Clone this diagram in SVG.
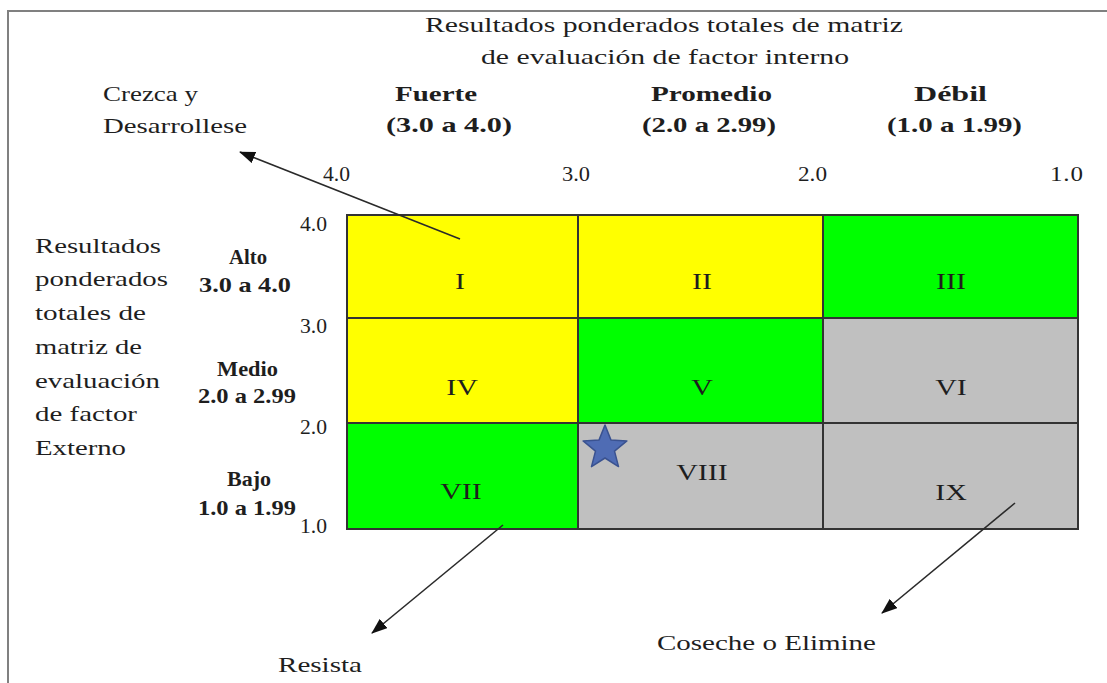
<svg xmlns="http://www.w3.org/2000/svg" width="1107" height="683" viewBox="0 0 1107 683">
<style>
text{font-family:"Liberation Serif","Times New Roman",serif;fill:#1e1e1e;font-size:22px}
.b{font-weight:bold}
.ax{font-size:20px}
.num{font-size:24px}
.cell{stroke:#333;stroke-width:2}
.y{fill:#ffff00}.g{fill:#00ff00}.s{fill:#c0c0c0}
.arr{stroke:#2a2a2a;stroke-width:1.6;fill:none;marker-end:url(#ah)}
</style>
<defs>
<marker id="ah" viewBox="0 0 16 12" refX="15" refY="6" markerWidth="16" markerHeight="12" markerUnits="userSpaceOnUse" orient="auto">
<path d="M0,0 L16,6 L0,12 Z" fill="#111"/>
</marker>
</defs>
<rect width="1107" height="683" fill="#fff"/>
<path d="M8,683 V11 H1107" fill="none" stroke="#808080" stroke-width="2"/>

<g id="titles" transform="scale(1.25 1)">
<text x="340" y="32" textLength="382.4" lengthAdjust="spacingAndGlyphs">Resultados ponderados totales de matriz</text>
<text x="384.8" y="64" textLength="294.4" lengthAdjust="spacingAndGlyphs">de evaluación de factor interno</text>
<text x="82.4" y="101" textLength="76" lengthAdjust="spacingAndGlyphs">Crezca y</text>
<text x="82.4" y="133" textLength="115.2" lengthAdjust="spacingAndGlyphs">Desarrollese</text>
<text class="b" x="316" y="101" textLength="65.6" lengthAdjust="spacingAndGlyphs">Fuerte</text>
<text class="b" x="308.8" y="132" textLength="100.8" lengthAdjust="spacingAndGlyphs">(3.0 a 4.0)</text>
<text class="b" x="520.8" y="101" textLength="96.8" lengthAdjust="spacingAndGlyphs">Promedio</text>
<text class="b" x="513.6" y="132" textLength="107.2" lengthAdjust="spacingAndGlyphs">(2.0 a 2.99)</text>
<text class="b" x="731.2" y="101" textLength="58.4" lengthAdjust="spacingAndGlyphs">Débil</text>
<text class="b" x="709.6" y="132" textLength="108" lengthAdjust="spacingAndGlyphs">(1.0 a 1.99)</text>
</g>

<g id="axis-top" transform="scale(1.25 1)">
<text class="ax" x="258.4" y="181" textLength="21.6" lengthAdjust="spacingAndGlyphs">4.0</text>
<text class="ax" x="449.6" y="181" textLength="22.4" lengthAdjust="spacingAndGlyphs">3.0</text>
<text class="ax" x="638.4" y="181" textLength="23.2" lengthAdjust="spacingAndGlyphs">2.0</text>
<text class="ax" x="840" y="181" textLength="26.4" lengthAdjust="spacing">1.0</text>
</g>
<g id="axis-left" transform="scale(1.25 1)">
<text class="ax" x="240" y="231" textLength="21.6" lengthAdjust="spacingAndGlyphs">4.0</text>
<text class="ax" x="240" y="333" textLength="21.6" lengthAdjust="spacingAndGlyphs">3.0</text>
<text class="ax" x="240" y="434" textLength="21.6" lengthAdjust="spacingAndGlyphs">2.0</text>
<text class="ax" x="240" y="533" textLength="21.6" lengthAdjust="spacingAndGlyphs">1.0</text>
</g>

<g id="left-label" transform="scale(1.25 1)">
<text x="28" y="253" textLength="100.8" lengthAdjust="spacingAndGlyphs">Resultados</text>
<text x="28" y="286" textLength="106.4" lengthAdjust="spacingAndGlyphs">ponderados</text>
<text x="28" y="320" textLength="88.8" lengthAdjust="spacingAndGlyphs">totales de</text>
<text x="28" y="354" textLength="85.6" lengthAdjust="spacingAndGlyphs">matriz de</text>
<text x="28" y="388" textLength="100" lengthAdjust="spacingAndGlyphs">evaluación</text>
<text x="28" y="421" textLength="81.6" lengthAdjust="spacingAndGlyphs">de factor</text>
<text x="28" y="455" textLength="72.8" lengthAdjust="spacingAndGlyphs">Externo</text>
</g>

<g id="row-labels" transform="scale(1.25 1)">
<text class="b" x="183.2" y="264" textLength="30.4" lengthAdjust="spacingAndGlyphs">Alto</text>
<text class="b" x="159.2" y="292" textLength="73.6" lengthAdjust="spacingAndGlyphs">3.0 a 4.0</text>
<text class="b" x="173.6" y="376" textLength="48.8" lengthAdjust="spacingAndGlyphs">Medio</text>
<text class="b" x="158.4" y="403" textLength="78.4" lengthAdjust="spacingAndGlyphs">2.0 a 2.99</text>
<text class="b" x="181.6" y="486" textLength="35.2" lengthAdjust="spacingAndGlyphs">Bajo</text>
<text class="b" x="158.4" y="515" textLength="78.4" lengthAdjust="spacingAndGlyphs">1.0 a 1.99</text>
</g>

<g id="cell-I"><rect class="cell y" x="347" y="215" width="231" height="103"/><text class="num" transform="scale(1.25 1)" x="368" y="289" text-anchor="middle">I</text></g>
<g id="cell-II"><rect class="cell y" x="578" y="215" width="245" height="103"/><text class="num" transform="scale(1.25 1)" x="561.6" y="289" text-anchor="middle">II</text></g>
<g id="cell-III"><rect class="cell g" x="823" y="215" width="255" height="103"/><text class="num" transform="scale(1.25 1)" x="760.8" y="289" text-anchor="middle">III</text></g>
<g id="cell-IV"><rect class="cell y" x="347" y="318" width="231" height="105"/><text class="num" transform="scale(1.25 1)" x="369.6" y="395" text-anchor="middle">IV</text></g>
<g id="cell-V"><rect class="cell g" x="578" y="318" width="245" height="105"/><text class="num" transform="scale(1.25 1)" x="561.6" y="395" text-anchor="middle">V</text></g>
<g id="cell-VI"><rect class="cell s" x="823" y="318" width="255" height="105"/><text class="num" transform="scale(1.25 1)" x="760.8" y="395" text-anchor="middle">VI</text></g>
<g id="cell-VII"><rect class="cell g" x="347" y="423" width="231" height="106"/><text class="num" transform="scale(1.25 1)" x="368.8" y="499" text-anchor="middle">VII</text></g>
<g id="cell-VIII"><rect class="cell s" x="578" y="423" width="245" height="106"/><text class="num" transform="scale(1.25 1)" x="561.6" y="480" text-anchor="middle">VIII</text></g>
<g id="cell-IX"><rect class="cell s" x="823" y="423" width="255" height="106"/><text class="num" transform="scale(1.25 1)" x="760.8" y="500" text-anchor="middle">IX</text></g>

<g id="star">
<polygon points="605,425 610.9,439.9 626.9,440.9 614.5,451.1 618.5,466.6 605,458 591.5,466.6 595.5,451.1 583.1,440.9 599.1,439.9" fill="#4f6cb4" stroke="#3a5290" stroke-width="1.5" stroke-linejoin="round"/>
</g>

<g id="connectors">
<line class="arr" x1="460" y1="239" x2="240" y2="152"/>
<line class="arr" x1="503" y1="525" x2="372" y2="633"/>
<line class="arr" x1="1015" y1="503" x2="882" y2="613"/>
</g>

<g id="outcome-labels" transform="scale(1.25 1)">
<text x="222.4" y="672" textLength="67.2" lengthAdjust="spacingAndGlyphs">Resista</text>
<text x="525.6" y="650" textLength="175.2" lengthAdjust="spacingAndGlyphs">Coseche o Elimine</text>
</g>
</svg>
